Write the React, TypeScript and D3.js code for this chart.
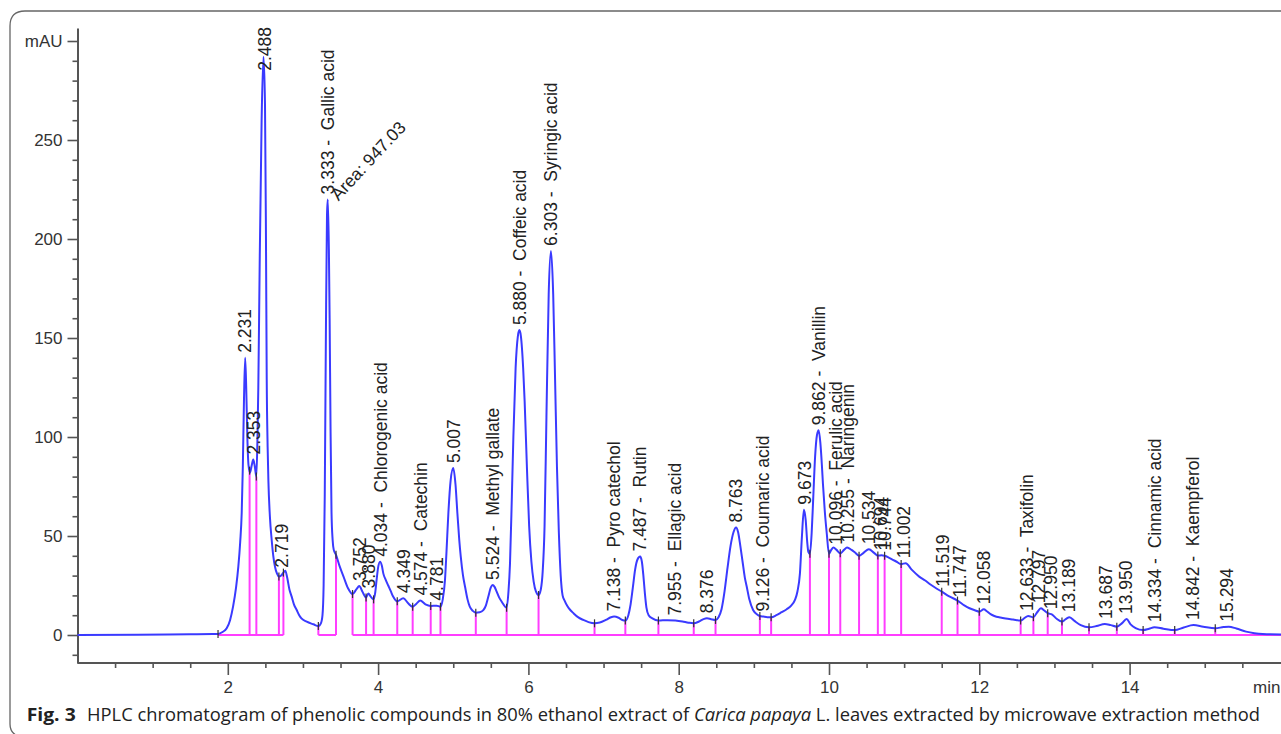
import React, { useEffect, useRef } from 'react';
import * as d3 from 'd3';

const W = 1281;
const H = 734;

// axis ticks
const yMajorTicks = [0, 50, 100, 150, 200, 250, 300];
const yUnitLabel = 'mAU';
const xMajorTicks = [2, 4, 6, 8, 10, 12, 14];
const xUnitLabel = 'min';

// chromatogram trace: [retention time (min), absorbance (mAU)]
const trace: [number, number][] = [
  [0, 0], [0.8, 0.1], [1.5, 0.4], [1.8, 0.5], [1.87, 0.5], [1.93, 1.5], [1.985, 3.4], [2.03, 7.5],
  [2.07, 14.3], [2.11, 24], [2.14, 34.5], [2.165, 47], [2.185, 61.6], [2.2, 85], [2.215, 118],
  [2.231, 140], [2.245, 125], [2.26, 100], [2.275, 86], [2.295, 82], [2.32, 86], [2.339, 88.6],
  [2.36, 85], [2.38, 80], [2.395, 100], [2.406, 125], [2.425, 190], [2.45, 260], [2.475, 292],
  [2.495, 268], [2.508, 200], [2.518, 129], [2.53, 95], [2.54, 78], [2.56, 60], [2.584, 48],
  [2.605, 40], [2.628, 34.5], [2.655, 31], [2.68, 29.5], [2.71, 30], [2.74, 31.5], [2.765, 32.5],
  [2.79, 29], [2.82, 23], [2.85, 19.4], [2.88, 15.5], [2.917, 12.6], [2.95, 10], [2.98, 8.4],
  [3.05, 6.7], [3.14, 5.4], [3.205, 4.5], [3.24, 6], [3.26, 10], [3.275, 25], [3.29, 70],
  [3.305, 150], [3.32, 212], [3.33, 220], [3.345, 195], [3.355, 160], [3.367, 105], [3.38, 62],
  [3.395, 48], [3.41, 43], [3.44, 40.5], [3.49, 34.5], [3.54, 29.5], [3.6, 23.6], [3.66, 20.7],
  [3.71, 23], [3.75, 24.7], [3.79, 22], [3.84, 19], [3.87, 21], [3.9, 19.5], [3.94, 18],
  [3.96, 21], [3.98, 27.8], [4.0, 34], [4.026, 37], [4.05, 35], [4.07, 31], [4.1, 28],
  [4.135, 25], [4.17, 22], [4.2, 19.4], [4.255, 17], [4.335, 18.6], [4.4, 16], [4.46, 14.3],
  [4.51, 15.8], [4.56, 17.4], [4.63, 15.5], [4.7, 14.7], [4.78, 14.8], [4.83, 14.3], [4.86, 18],
  [4.89, 27.8], [4.91, 42], [4.935, 61.5], [4.965, 78], [5.0, 84.3], [5.03, 76], [5.055, 61.5],
  [5.08, 48], [5.1, 39.6], [5.13, 30], [5.157, 24.4], [5.19, 18], [5.22, 14.3], [5.26, 12.2],
  [5.3, 11.3], [5.35, 11.5], [5.4, 12.6], [5.435, 15], [5.467, 19.4], [5.5, 24], [5.525, 25.3],
  [5.55, 24.3], [5.578, 21.9], [5.61, 19], [5.645, 16.8], [5.71, 13.8], [5.735, 22], [5.755, 36],
  [5.78, 70], [5.8, 100], [5.83, 135], [5.86, 151], [5.88, 154], [5.9, 151], [5.93, 135],
  [5.95, 118], [5.98, 85], [6.01, 55], [6.04, 37], [6.07, 27], [6.1, 22], [6.135, 20.2],
  [6.165, 23], [6.19, 32], [6.215, 55], [6.24, 110], [6.27, 172], [6.3, 194], [6.33, 172],
  [6.355, 129], [6.38, 85], [6.405, 52], [6.43, 30], [6.455, 20], [6.48, 17.5], [6.52, 14.5],
  [6.56, 12.5], [6.6, 11], [6.66, 9], [6.73, 7.6], [6.8, 6.5], [6.88, 5.9], [6.95, 6.3],
  [7.03, 7.6], [7.1, 9], [7.14, 9.3], [7.2, 8.7], [7.25, 7.6], [7.29, 7.3], [7.33, 10],
  [7.36, 15.5], [7.39, 24], [7.42, 33], [7.45, 38], [7.487, 39.6], [7.51, 37], [7.53, 30],
  [7.55, 21], [7.57, 14], [7.6, 10], [7.65, 8.4], [7.73, 7.3], [7.85, 7.5], [7.955, 7.3],
  [8.05, 6.8], [8.13, 6.2], [8.2, 5.9], [8.27, 6.8], [8.33, 8], [8.376, 8.4], [8.43, 8],
  [8.49, 7.6], [8.53, 9], [8.57, 13], [8.61, 22], [8.65, 34], [8.69, 45], [8.73, 52],
  [8.763, 54.3], [8.79, 52], [8.82, 45], [8.85, 37], [8.88, 29], [8.905, 24.5], [8.94, 18],
  [8.99, 12.6], [9.04, 10.5], [9.08, 9.6], [9.126, 9.3], [9.18, 9], [9.23, 9], [9.3, 10],
  [9.37, 11.5], [9.437, 13], [9.5, 15], [9.547, 17.7], [9.58, 22], [9.613, 31], [9.64, 50],
  [9.666, 63.3], [9.69, 58], [9.71, 47], [9.725, 42], [9.746, 41], [9.77, 52], [9.79, 69],
  [9.815, 90], [9.84, 101], [9.862, 103.4], [9.885, 97], [9.905, 86], [9.92, 76], [9.945, 62],
  [9.97, 51.4], [10.0, 41], [10.03, 43], [10.06, 44.2], [10.1, 43], [10.15, 41.3], [10.2, 43],
  [10.24, 44.2], [10.3, 43], [10.35, 41.5], [10.4, 40], [10.46, 41.5], [10.53, 43.3],
  [10.6, 41.5], [10.65, 40.1], [10.7, 40.3], [10.74, 40], [10.8, 39], [10.85, 38], [10.9, 37],
  [10.96, 35.8], [11.02, 36.3], [11.1, 33], [11.2, 29.5], [11.28, 27.5], [11.35, 25.5],
  [11.43, 23.5], [11.5, 21.9], [11.6, 19.5], [11.71, 17.4], [11.8, 15], [11.87, 13.5],
  [11.94, 12.5], [12.0, 11.8], [12.06, 13], [12.1, 12], [12.15, 10.5], [12.2, 9.6],
  [12.28, 8.8], [12.35, 8.3], [12.45, 7.8], [12.55, 7.3], [12.6, 8.5], [12.65, 9.6], [12.72, 9],
  [12.77, 11.5], [12.82, 13.5], [12.86, 12.5], [12.91, 11], [12.97, 10.3], [13.03, 8.2],
  [13.1, 6.8], [13.15, 8], [13.2, 9], [13.27, 7], [13.35, 5], [13.46, 3.9], [13.56, 4.5],
  [13.67, 5.6], [13.75, 5], [13.83, 4.2], [13.9, 6], [13.96, 8.1], [14.01, 5.5], [14.08, 3.5],
  [14.18, 2.5], [14.26, 3.2], [14.33, 3.9], [14.45, 3.2], [14.6, 2.5], [14.72, 3.8], [14.85, 5],
  [14.98, 4.2], [15.14, 3.4], [15.25, 4], [15.32, 4.2], [15.42, 3.3], [15.55, 1.7], [15.66, 0.9],
  [15.77, 0.5], [16.05, 0.3],
];

// integration boundaries (min)
const integrationMarks = [
  1.87, 2.29, 2.38, 2.68, 2.74, 3.205, 3.44, 3.66, 3.84, 3.94, 4.255, 4.46, 4.7, 4.83, 5.3,
  5.71, 6.135, 6.88, 7.29, 7.73, 8.2, 8.49, 9.08, 9.23, 9.746, 10.0, 10.15, 10.4, 10.65, 10.74,
  10.96, 11.5, 11.71, 12.0, 12.55, 12.72, 12.91, 13.1, 13.46, 13.83, 14.18, 14.6, 15.14,
];

// integration baseline segments [start, end] (min)
const baselineSegments: [number, number][] = [
  [1.87, 2.74],
  [3.205, 3.44],
  [3.66, 16.05],
];

// peak labels: [retention time, compound]
const peakLabels: [string, string][] = [
  ['2.231', ''], ['2.353', ''], ['2.488', ''], ['2.719', ''], ['3.333', 'Gallic acid'],
  ['3.752', ''], ['3.880', ''], ['4.034', 'Chlorogenic acid'], ['4.349', ''],
  ['4.574', 'Catechin'], ['4.781', ''], ['5.007', ''], ['5.524', 'Methyl gallate'],
  ['5.880', 'Coffeic acid'], ['6.303', 'Syringic acid'], ['7.138', 'Pyro catechol'],
  ['7.487', 'Rutin'], ['7.955', 'Ellagic acid'], ['8.376', ''], ['8.763', ''],
  ['9.126', 'Coumaric acid'], ['9.673', ''], ['9.862', 'Vanillin'], ['10.096', 'Ferulic acid'],
  ['10.255', 'Naringenin'], ['10.534', ''], ['10.694', ''], ['10.744', ''], ['11.002', ''],
  ['11.519', ''], ['11.747', ''], ['12.058', ''], ['12.633', 'Taxifolin'], ['12.797', ''],
  ['12.950', ''], ['13.189', ''], ['13.687', ''], ['13.950', ''], ['14.334', 'Cinnamic acid'],
  ['14.842', 'Kaempferol'], ['15.294', ''],
];

const areaNote = { rt: 3.333, text: 'Area: 947.03' };

const captionLead = 'Fig. 3';
const captionPre = 'HPLC chromatogram of phenolic compounds in 80% ethanol extract of ';
const captionItalic = 'Carica papaya';
const captionPost = ' L. leaves extracted by microwave extraction method';

const FONT = '"Liberation Sans", Arial, Helvetica, sans-serif';

export default function App() {
  const ref = useRef<SVGSVGElement | null>(null);

  useEffect(() => {
    const svg = d3.select(ref.current!);
    svg.selectAll('*').remove();

    const x = d3.scaleLinear().domain([0, 16]).range([77.5, 77.5 + 16 * 75.15]);
    const y = d3.scaleLinear().domain([-14.14, 306.57]).range([663, 28]);

    const bis = d3.bisector((d: [number, number]) => d[0]).left;
    const valueAt = (t: number) => {
      const i = bis(trace, t);
      if (i <= 0) return trace[0][1];
      if (i >= trace.length) return trace[trace.length - 1][1];
      const a = trace[i - 1], b = trace[i];
      return a[1] + ((t - a[0]) / (b[0] - a[0])) * (b[1] - a[1]);
    };

    // frame
    svg.append('path')
      .attr('d', 'M1290,11 H25 Q10,11 10,26 V724 Q10,733 18,736')
      .attr('fill', 'none').attr('stroke', '#666').attr('stroke-width', 1.3);

    // axes
    const minorY = d3.range(-10, 301, 10).filter(v => v % 50 !== 0);
    const gYm = svg.append('g').attr('transform', 'translate(77.5,0)')
      .call(d3.axisLeft(y).tickValues(minorY).tickSize(5).tickSizeOuter(0).tickFormat(() => ''));
    const gY = svg.append('g').attr('transform', 'translate(77.5,0)')
      .call(d3.axisLeft(y).tickValues(yMajorTicks).tickSize(10).tickSizeOuter(0).tickPadding(5)
        .tickFormat((d: any) => (d === 300 ? yUnitLabel : String(d))));

    const minorX = d3.range(0.5, 16, 0.5).filter(v => v % 2 !== 0);
    const gXm = svg.append('g').attr('transform', 'translate(0,663)')
      .call(d3.axisBottom(x).tickValues(minorX).tickSize(5).tickSizeOuter(0).tickFormat(() => ''));
    const gX = svg.append('g').attr('transform', 'translate(0,663)')
      .call(d3.axisBottom(x).tickValues(xMajorTicks).tickSize(12).tickSizeOuter(0).tickPadding(6));

    [gYm, gY, gXm, gX].forEach(g => {
      g.selectAll('path.domain').attr('stroke', '#555').attr('stroke-width', 2);
      g.selectAll('line').attr('stroke', '#555').attr('stroke-width', 1.6);
      g.selectAll('text').attr('font-family', FONT).attr('font-size', 17).attr('fill', '#333');
    });
    gX.select('path.domain').attr('d', `M77.5,0H${W}`);
    gXm.select('path.domain').remove();
    gYm.select('path.domain').remove();

    svg.append('text').attr('x', 1253).attr('y', 693).attr('font-family', FONT)
      .attr('font-size', 17).attr('fill', '#333').text(xUnitLabel);

    // integration lines (magenta)
    const gInt = svg.append('g').attr('stroke', '#ff3dff').attr('stroke-width', 2).attr('fill', 'none');
    baselineSegments.forEach(([a, b]) => {
      gInt.append('line').attr('x1', x(a)).attr('x2', x(b)).attr('y1', y(0)).attr('y2', y(0));
    });
    integrationMarks.forEach(t => {
      gInt.append('line').attr('x1', x(t)).attr('x2', x(t)).attr('y1', y(0)).attr('y2', y(valueAt(t)));
    });

    // trace
    const line = d3.line<[number, number]>().x(d => x(d[0])).y(d => y(d[1])).curve(d3.curveMonotoneX);
    svg.append('path').datum(trace).attr('d', line as any)
      .attr('fill', 'none').attr('stroke', '#3a3aff').attr('stroke-width', 2)
      .attr('stroke-linejoin', 'round');

    // boundary ticks
    const gTk = svg.append('g').attr('stroke', '#333').attr('stroke-width', 1.2);
    integrationMarks.forEach(t => {
      const py = y(valueAt(t));
      gTk.append('line').attr('x1', x(t)).attr('x2', x(t)).attr('y1', py - 4).attr('y2', py + 4);
    });

    // peak labels
    const gL = svg.append('g').attr('font-family', FONT).attr('font-size', 17.5).attr('fill', '#222');
    peakLabels.forEach(([rt, name]) => {
      const t = +rt;
      const near = trace.filter(p => Math.abs(p[0] - t) <= 0.03).map(p => p[1]);
      const v = Math.max(valueAt(t), ...near);
      let bottom = y(v) - 5;
      const txt = gL.append('text')
        .attr('dy', '0.35em')
        .style('white-space', 'pre')
        .text(name ? `${rt} -  ${name}` : rt);
      const len = (txt.node() as SVGTextElement).getComputedTextLength();
      if (bottom - len < 27) bottom = 27 + len;
      txt.attr('transform', `translate(${x(t)},${bottom}) rotate(-90)`);
    });

    gL.append('text')
      .attr('transform', `translate(${x(areaNote.rt) + 6},${y(220) - 2}) rotate(-47)`)
      .attr('dy', '0.35em')
      .text(areaNote.text);

    // caption
    svg.append('text').attr('x', 26.7).attr('y', 721)
      .attr('font-family', '"Open Sans", "Noto Sans", sans-serif').attr('font-weight', 'bold')
      .attr('font-size', 18).attr('fill', '#222')
      .attr('textLength', 49).attr('lengthAdjust', 'spacingAndGlyphs').text(captionLead);
    const cap = svg.append('text').attr('x', 87).attr('y', 721)
      .attr('font-family', '"Open Sans", "Noto Sans", sans-serif')
      .attr('font-size', 18).attr('fill', '#222')
      .attr('textLength', 1173).attr('lengthAdjust', 'spacingAndGlyphs');
    cap.append('tspan').text(captionPre);
    cap.append('tspan').attr('font-style', 'italic').text(captionItalic);
    cap.append('tspan').text(captionPost);
  }, []);

  return (
    <svg
      ref={ref}
      width={W}
      height={H}
      style={{ position: 'absolute', left: 0, top: 0, background: '#fff', display: 'block' }}
    />
  );
}
